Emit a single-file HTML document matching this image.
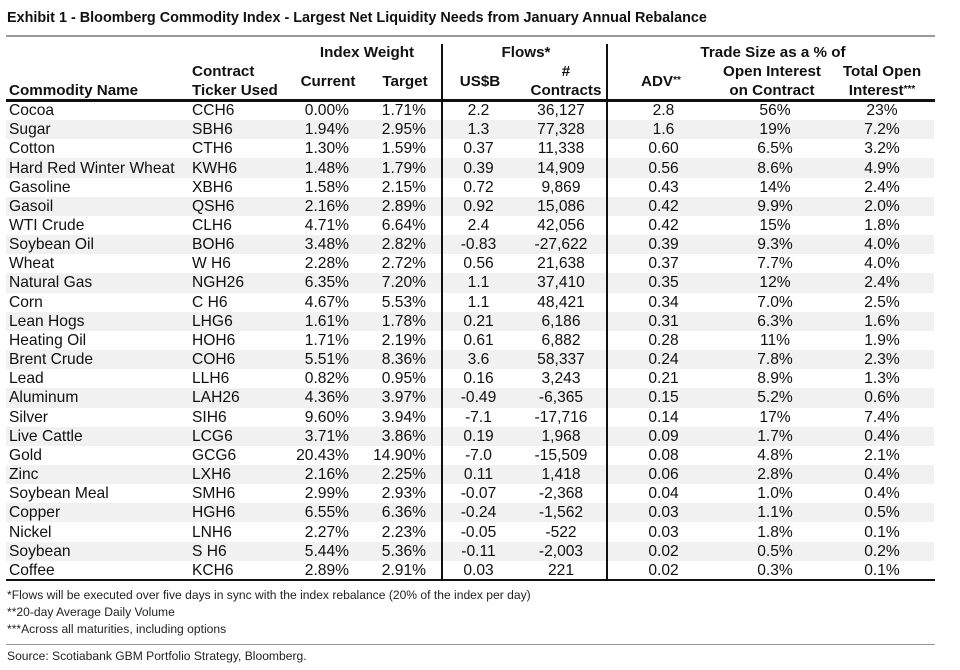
<!DOCTYPE html>
<html><head><meta charset="utf-8"><style>
body{margin:0;width:960px;height:670px;background:#fff;position:relative;overflow:hidden;font-family:"Liberation Sans",Arial,sans-serif;color:#111}
.a{position:absolute;white-space:nowrap}
.h{font-weight:bold;font-size:15.2px}
.c{text-align:center}
table{position:absolute;left:6px;top:101px;border-collapse:collapse;table-layout:fixed;width:928px;font-size:15.6px}
td{height:19.16px;padding:0;line-height:19px;white-space:nowrap}
tr:nth-child(even) td{background:#f1f1f1}
td:nth-child(1){padding-left:3px;text-align:left}
td:nth-child(2){text-align:left;padding-left:7px}
td:nth-child(3){text-align:right;padding-right:6px}
td:nth-child(4){text-align:right;padding-right:16px}
td:nth-child(n+5){text-align:center}
.f{font-size:12.1px;color:#222}
</style></head><body>
<div class="a" style="left:7px;top:10px;font-weight:bold;font-size:14.4px;color:#111">Exhibit 1 - Bloomberg Commodity Index - Largest Net Liquidity Needs from January Annual Rebalance</div>
<div class="a" style="left:6px;top:35px;width:929px;height:2px;background:#999"></div>
<div class="a h c" style="left:307px;width:120px;top:44px">Index Weight</div>
<div class="a h c" style="left:466px;width:120px;top:44px">Flows*</div>
<div class="a h c" style="left:673px;width:200px;top:44px">Trade Size as a % of</div>
<div class="a h" style="left:192px;top:63px">Contract</div>
<div class="a h" style="left:192px;top:82px">Ticker Used</div>
<div class="a h" style="left:9px;top:82px">Commodity Name</div>
<div class="a h c" style="left:288px;width:80px;top:73px">Current</div>
<div class="a h c" style="left:365px;width:80px;top:73px">Target</div>
<div class="a h c" style="left:440px;width:80px;top:73px">US$B</div>
<div class="a h c" style="left:526px;width:80px;top:63px">#</div>
<div class="a h c" style="left:516px;width:100px;top:82px">Contracts</div>
<div class="a h" style="left:641px;top:73px">ADV<span style="font-size:10px;vertical-align:3px">**</span></div>
<div class="a h c" style="left:712px;width:120px;top:63px">Open Interest</div>
<div class="a h c" style="left:712px;width:120px;top:82px">on Contract</div>
<div class="a h c" style="left:822px;width:120px;top:63px">Total Open</div>
<div class="a h c" style="left:822px;width:120px;top:82px">Interest<span style="font-size:10px;vertical-align:3px">***</span></div>
<div class="a" style="left:6px;top:99px;width:929px;height:3px;background:#111"></div>
<table>
<colgroup><col style="width:179px"><col style="width:105px"><col style="width:65px"><col style="width:87px"><col style="width:73px"><col style="width:92px"><col style="width:113px"><col style="width:110px"><col style="width:104px"></colgroup>
<tr><td>Cocoa</td><td>CCH6</td><td>0.00%</td><td>1.71%</td><td>2.2</td><td>36,127</td><td>2.8</td><td>56%</td><td>23%</td></tr>
<tr><td>Sugar</td><td>SBH6</td><td>1.94%</td><td>2.95%</td><td>1.3</td><td>77,328</td><td>1.6</td><td>19%</td><td>7.2%</td></tr>
<tr><td>Cotton</td><td>CTH6</td><td>1.30%</td><td>1.59%</td><td>0.37</td><td>11,338</td><td>0.60</td><td>6.5%</td><td>3.2%</td></tr>
<tr><td>Hard Red Winter Wheat</td><td>KWH6</td><td>1.48%</td><td>1.79%</td><td>0.39</td><td>14,909</td><td>0.56</td><td>8.6%</td><td>4.9%</td></tr>
<tr><td>Gasoline</td><td>XBH6</td><td>1.58%</td><td>2.15%</td><td>0.72</td><td>9,869</td><td>0.43</td><td>14%</td><td>2.4%</td></tr>
<tr><td>Gasoil</td><td>QSH6</td><td>2.16%</td><td>2.89%</td><td>0.92</td><td>15,086</td><td>0.42</td><td>9.9%</td><td>2.0%</td></tr>
<tr><td>WTI Crude</td><td>CLH6</td><td>4.71%</td><td>6.64%</td><td>2.4</td><td>42,056</td><td>0.42</td><td>15%</td><td>1.8%</td></tr>
<tr><td>Soybean Oil</td><td>BOH6</td><td>3.48%</td><td>2.82%</td><td>-0.83</td><td>-27,622</td><td>0.39</td><td>9.3%</td><td>4.0%</td></tr>
<tr><td>Wheat</td><td>W H6</td><td>2.28%</td><td>2.72%</td><td>0.56</td><td>21,638</td><td>0.37</td><td>7.7%</td><td>4.0%</td></tr>
<tr><td>Natural Gas</td><td>NGH26</td><td>6.35%</td><td>7.20%</td><td>1.1</td><td>37,410</td><td>0.35</td><td>12%</td><td>2.4%</td></tr>
<tr><td>Corn</td><td>C H6</td><td>4.67%</td><td>5.53%</td><td>1.1</td><td>48,421</td><td>0.34</td><td>7.0%</td><td>2.5%</td></tr>
<tr><td>Lean Hogs</td><td>LHG6</td><td>1.61%</td><td>1.78%</td><td>0.21</td><td>6,186</td><td>0.31</td><td>6.3%</td><td>1.6%</td></tr>
<tr><td>Heating Oil</td><td>HOH6</td><td>1.71%</td><td>2.19%</td><td>0.61</td><td>6,882</td><td>0.28</td><td>11%</td><td>1.9%</td></tr>
<tr><td>Brent Crude</td><td>COH6</td><td>5.51%</td><td>8.36%</td><td>3.6</td><td>58,337</td><td>0.24</td><td>7.8%</td><td>2.3%</td></tr>
<tr><td>Lead</td><td>LLH6</td><td>0.82%</td><td>0.95%</td><td>0.16</td><td>3,243</td><td>0.21</td><td>8.9%</td><td>1.3%</td></tr>
<tr><td>Aluminum</td><td>LAH26</td><td>4.36%</td><td>3.97%</td><td>-0.49</td><td>-6,365</td><td>0.15</td><td>5.2%</td><td>0.6%</td></tr>
<tr><td>Silver</td><td>SIH6</td><td>9.60%</td><td>3.94%</td><td>-7.1</td><td>-17,716</td><td>0.14</td><td>17%</td><td>7.4%</td></tr>
<tr><td>Live Cattle</td><td>LCG6</td><td>3.71%</td><td>3.86%</td><td>0.19</td><td>1,968</td><td>0.09</td><td>1.7%</td><td>0.4%</td></tr>
<tr><td>Gold</td><td>GCG6</td><td>20.43%</td><td>14.90%</td><td>-7.0</td><td>-15,509</td><td>0.08</td><td>4.8%</td><td>2.1%</td></tr>
<tr><td>Zinc</td><td>LXH6</td><td>2.16%</td><td>2.25%</td><td>0.11</td><td>1,418</td><td>0.06</td><td>2.8%</td><td>0.4%</td></tr>
<tr><td>Soybean Meal</td><td>SMH6</td><td>2.99%</td><td>2.93%</td><td>-0.07</td><td>-2,368</td><td>0.04</td><td>1.0%</td><td>0.4%</td></tr>
<tr><td>Copper</td><td>HGH6</td><td>6.55%</td><td>6.36%</td><td>-0.24</td><td>-1,562</td><td>0.03</td><td>1.1%</td><td>0.5%</td></tr>
<tr><td>Nickel</td><td>LNH6</td><td>2.27%</td><td>2.23%</td><td>-0.05</td><td>-522</td><td>0.03</td><td>1.8%</td><td>0.1%</td></tr>
<tr><td>Soybean</td><td>S H6</td><td>5.44%</td><td>5.36%</td><td>-0.11</td><td>-2,003</td><td>0.02</td><td>0.5%</td><td>0.2%</td></tr>
<tr><td>Coffee</td><td>KCH6</td><td>2.89%</td><td>2.91%</td><td>0.03</td><td>221</td><td>0.02</td><td>0.3%</td><td>0.1%</td></tr>
</table>
<div class="a" style="left:6px;top:579px;width:929px;height:2px;background:#111"></div>
<div class="a" style="left:441px;top:44px;width:2px;height:536px;background:#111"></div>
<div class="a" style="left:606px;top:44px;width:2px;height:536px;background:#111"></div>
<div class="a f" style="left:7px;top:588px">*Flows will be executed over five days in sync with the index rebalance (20% of the index per day)</div>
<div class="a f" style="left:7px;top:605px">**20-day Average Daily Volume</div>
<div class="a f" style="left:7px;top:622px">***Across all maturities, including options</div>
<div class="a" style="left:6px;top:644px;width:929px;height:1px;background:#999"></div>
<div class="a f" style="left:7px;top:649px">Source: Scotiabank GBM Portfolio Strategy, Bloomberg.</div>
</body></html>
